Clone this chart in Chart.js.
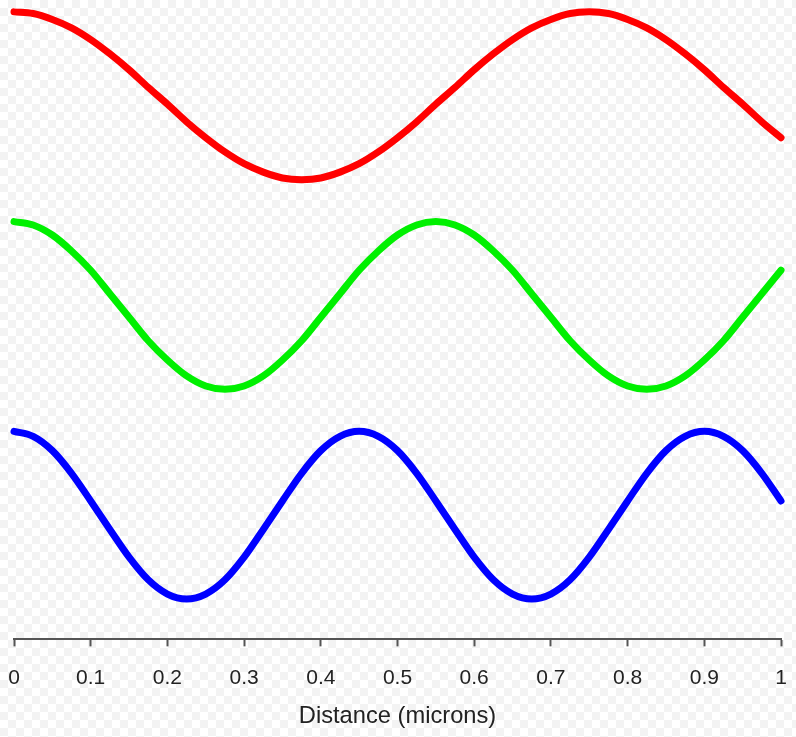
<!DOCTYPE html>
<html>
<head>
<meta charset="utf-8">
<script src="https://cdn.jsdelivr.net/npm/chart.js@4/dist/chart.umd.min.js"></script>
<style>
    body {
        margin: 0;
        background-color: #ffffff;
        background-image:
            linear-gradient(45deg, #f3f3f3 25%, transparent 25%, transparent 75%, #f3f3f3 75%),
            linear-gradient(45deg, #f3f3f3 25%, transparent 25%, transparent 75%, #f3f3f3 75%);
        background-size: 16px 16px;
        background-position: 0 0, 8px 8px;
    }
    #wrap { width: 796px; height: 737px; position: relative; }
</style>
</head>
<body>
<div id="wrap"><canvas id="waveChart"></canvas></div>
<script>
// Distancia en micras (eje x)
const distance = [0, 0.025, 0.05, 0.075, 0.1, 0.125, 0.15, 0.175, 0.2, 0.225,
    0.25, 0.275, 0.3, 0.325, 0.35, 0.375, 0.4, 0.425, 0.45, 0.475,
    0.5, 0.525, 0.55, 0.575, 0.6, 0.625, 0.65, 0.675, 0.7, 0.725,
    0.75, 0.775, 0.8, 0.825, 0.85, 0.875, 0.9, 0.925, 0.95, 0.975, 1];

// Onda roja (la más larga)
const redWave = [6.00, 5.98, 5.91, 5.81, 5.67, 5.50, 5.31, 5.10, 4.90, 4.69,
    4.50, 4.33, 4.19, 4.09, 4.02, 4.00, 4.02, 4.09, 4.19, 4.33,
    4.50, 4.69, 4.90, 5.10, 5.31, 5.50, 5.67, 5.81, 5.91, 5.98,
    6.00, 5.98, 5.91, 5.81, 5.67, 5.50, 5.31, 5.10, 4.90, 4.69, 4.50];

// Onda verde
const greenWave = [3.50, 3.46, 3.34, 3.15, 2.92, 2.64, 2.36, 2.08, 1.85, 1.66,
    1.54, 1.50, 1.54, 1.66, 1.85, 2.08, 2.36, 2.64, 2.92, 3.15,
    3.34, 3.46, 3.50, 3.46, 3.34, 3.15, 2.92, 2.64, 2.36, 2.08,
    1.85, 1.66, 1.54, 1.50, 1.54, 1.66, 1.85, 2.08, 2.36, 2.64, 2.92];

// Onda azul (la más corta)
const blueWave = [1.00, 0.94, 0.77, 0.50, 0.17, -0.17, -0.50, -0.77, -0.94, -1.00,
    -0.94, -0.77, -0.50, -0.17, 0.17, 0.50, 0.77, 0.94, 1.00, 0.94,
    0.77, 0.50, 0.17, -0.17, -0.50, -0.77, -0.94, -1.00, -0.94, -0.77,
    -0.50, -0.17, 0.17, 0.50, 0.77, 0.94, 1.00, 0.94, 0.77, 0.50, 0.17];

const xTicks = [0, 0.1, 0.2, 0.3, 0.4, 0.5, 0.6, 0.7, 0.8, 0.9, 1];

function toPoints(values) {
    return values.map(function(v, i) { return { x: distance[i], y: v }; });
}

function wave(values, color) {
    return {
        data: toPoints(values),
        borderColor: color,
        borderWidth: 7,
        borderCapStyle: 'round',
        borderJoinStyle: 'round',
        pointRadius: 0,
        cubicInterpolationMode: 'monotone',
        fill: false,
        clip: false
    };
}

const fontFamily = '"Liberation Sans", Arial, Helvetica, sans-serif';

var ctx = document.getElementById('waveChart').getContext('2d');
var waveChart = new Chart(ctx, {
    type: 'line',
    data: {
        datasets: [
            wave(redWave, '#ff0000'),
            wave(greenWave, '#00f000'),
            wave(blueWave, '#0000ff')
        ]
    },
    options: {
        responsive: true,
        maintainAspectRatio: false,
        animation: false,
        layout: { padding: { left: 14, right: 15, top: 6, bottom: 0 } },
        plugins: {
            legend: { display: false },
            tooltip: { enabled: false }
        },
        scales: {
            x: {
                type: 'linear',
                min: 0,
                max: 1,
                afterBuildTicks: function(axis) {
                    axis.ticks = xTicks.map(function(v) { return { value: v }; });
                },
                afterFit: function(axis) {
                    // sin relleno extra por las etiquetas de los extremos
                    axis.paddingLeft = 0;
                    axis.paddingRight = 0;
                },
                grid: {
                    drawOnChartArea: false,
                    tickLength: 7,
                    tickWidth: 2,
                    color: '#555555'
                },
                border: { color: '#555555', width: 2 },
                ticks: {
                    padding: 19,
                    maxRotation: 0,
                    color: '#222222',
                    font: { family: fontFamily, size: 21 },
                    callback: function(value) { return String(value); }
                },
                title: {
                    display: true,
                    text: 'Distance (microns)',
                    color: '#222222',
                    font: { family: fontFamily, size: 23.7 },
                    padding: { top: -7, bottom: 6 }
                }
            },
            y: {
                display: false,
                min: -1.48,
                max: 6.07
            }
        }
    }
});
</script>
</body>
</html>
